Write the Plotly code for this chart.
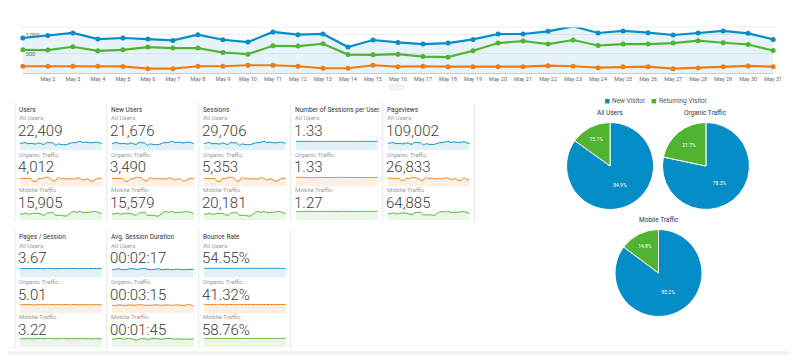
import plotly.graph_objects as go

# page body has an 8px margin: the figure is sized to fit inside the 806x363 window
W, H = 806, 363
OFF = 8
FW, FH = W - 2 * OFF, H - 2 * OFF
BLUE, GREEN, ORANGE = "#058DC7", "#50B432", "#ED7E17"
FONT = "Roboto"

# ---------------- data ----------------
days = [f"May {d}" for d in range(1, 32)]
sessions_all = [913, 981, 1044, 886, 913, 886, 850, 1000, 868, 807, 1070, 1000, 1018, 676, 860, 797,
                755, 781, 876, 1018, 1018, 1086, 1218, 1044, 1097, 1052, 991, 1044, 1097, 1034, 876]
sessions_mobile = [605, 597, 684, 579, 605, 676, 650, 650, 534, 492, 710, 702, 763, 481, 473, 492,
                   429, 413, 579, 781, 834, 755, 860, 718, 755, 755, 781, 842, 789, 744, 587]
sessions_organic = [176, 176, 176, 176, 172, 113, 113, 176, 176, 202, 202, 176, 124, 124, 202, 166,
                    176, 166, 166, 166, 166, 192, 176, 139, 160, 166, 113, 131, 160, 184, 166]

metric_names = ["Users", "New Users", "Sessions", "Number of Sessions per User", "Pageviews",
                "Pages / Session", "Avg. Session Duration", "Bounce Rate"]
segments = ["All Users", "Organic Traffic", "Mobile Traffic"]
totals_all = ["22,409", "21,676", "29,706", "1.33", "109,002", "3.67", "00:02:17", "54.55%"]
totals_organic = ["4,012", "3,490", "5,353", "1.33", "26,833", "5.01", "00:03:15", "41.32%"]
totals_mobile = ["15,905", "15,579", "20,181", "1.27", "64,885", "3.22", "00:01:45", "58.76%"]

users_all = [690, 735, 780, 665, 690, 665, 640, 750, 650, 605, 800, 750, 765, 510, 645, 600,
             570, 585, 660, 765, 765, 815, 910, 785, 820, 790, 745, 785, 820, 775, 660]
users_organic = [130, 132, 131, 130, 128, 86, 88, 131, 130, 150, 152, 132, 95, 96, 150, 125,
                 132, 124, 125, 126, 124, 143, 132, 105, 120, 125, 86, 99, 121, 138, 125]
users_mobile = [480, 475, 540, 460, 480, 535, 515, 515, 425, 390, 560, 555, 600, 380, 375, 390,
                340, 330, 460, 615, 655, 595, 675, 565, 595, 595, 615, 660, 620, 585, 465]
new_all = [668, 712, 755, 644, 668, 644, 620, 726, 630, 586, 775, 726, 741, 494, 625, 581,
           552, 567, 639, 741, 741, 789, 881, 760, 794, 765, 721, 760, 794, 750, 639]
new_organic = [113, 115, 114, 113, 111, 75, 77, 114, 113, 131, 132, 115, 83, 84, 130, 109,
               115, 108, 109, 110, 108, 124, 115, 91, 104, 109, 75, 86, 105, 120, 109]
new_mobile = [470, 465, 529, 451, 470, 524, 505, 505, 416, 382, 549, 544, 588, 372, 368, 382,
              333, 323, 451, 603, 642, 583, 661, 554, 583, 583, 603, 647, 608, 573, 456]
spu_all = [1.32, 1.33, 1.34, 1.33, 1.32, 1.33, 1.33, 1.33, 1.34, 1.33, 1.34, 1.33, 1.33, 1.32, 1.33, 1.33,
           1.32, 1.33, 1.33, 1.33, 1.33, 1.33, 1.34, 1.33, 1.34, 1.33, 1.33, 1.33, 1.34, 1.33, 1.33]
spu_organic = [1.35, 1.33, 1.34, 1.35, 1.34, 1.31, 1.28, 1.34, 1.35, 1.35, 1.33, 1.33, 1.31, 1.29, 1.35, 1.33,
               1.33, 1.34, 1.33, 1.32, 1.34, 1.34, 1.33, 1.32, 1.33, 1.33, 1.31, 1.32, 1.32, 1.33, 1.33]
spu_mobile = [1.26, 1.26, 1.27, 1.26, 1.26, 1.26, 1.26, 1.26, 1.26, 1.26, 1.27, 1.27, 1.27, 1.27, 1.26, 1.26,
              1.26, 1.28, 1.27, 1.27, 1.27, 1.27, 1.27, 1.27, 1.28, 1.27, 1.27, 1.27, 1.28, 1.27, 1.27]
pv_all = [3350, 3600, 3750, 3300, 3400, 3250, 3200, 3650, 3250, 3000, 3900, 3700, 3750, 2600, 3200, 3000,
          2850, 2950, 3300, 3750, 3800, 4000, 4400, 3850, 4050, 3900, 3700, 3900, 4150, 3650, 3300]
pv_organic = [860, 900, 870, 830, 880, 640, 660, 900, 840, 980, 950, 880, 700, 650, 990, 830,
              880, 820, 830, 850, 810, 940, 880, 740, 800, 830, 620, 720, 960, 700, 830]
pv_mobile = [2000, 1980, 2250, 1950, 2000, 2200, 2150, 2150, 1800, 1700, 2300, 2300, 2450, 1650, 1650, 1700,
             1550, 1500, 1950, 2500, 2600, 2450, 2700, 2350, 2400, 2400, 2450, 2600, 2500, 2400, 1950]
pps_all = [3.6, 3.7, 3.65, 3.55, 3.7, 3.6, 3.65, 3.7, 3.6, 3.55, 3.75, 3.7, 3.65, 3.5, 3.6, 3.65,
           3.7, 3.75, 3.6, 3.65, 3.7, 3.65, 3.55, 3.7, 3.65, 3.7, 3.6, 3.65, 3.6, 3.7, 3.6]
pps_organic = [4.9, 5.0, 4.95, 5.1, 5.05, 4.8, 4.9, 5.15, 5.0, 5.05, 5.2, 5.1, 5.0, 4.9, 5.1, 4.95,
               5.0, 5.05, 4.9, 5.0, 5.05, 4.95, 5.0, 4.9, 5.0, 4.95, 4.85, 4.95, 5.1, 4.9, 4.95]
pps_mobile = [3.1, 3.2, 3.15, 3.3, 3.2, 3.1, 3.25, 3.3, 3.2, 3.15, 3.3, 3.35, 3.2, 3.1, 3.2, 3.25,
              3.3, 3.2, 3.15, 3.25, 3.2, 3.15, 3.25, 3.2, 3.15, 3.2, 3.1, 3.15, 3.2, 3.15, 3.15]
dur_all = [130, 135, 145, 140, 128, 135, 140, 150, 145, 135, 140, 155, 150, 140, 130, 135,
           140, 145, 135, 130, 140, 135, 130, 135, 140, 135, 130, 132, 135, 138, 135]
dur_organic = [190, 185, 195, 200, 190, 185, 200, 195, 190, 195, 205, 200, 195, 185, 190, 195,
               200, 195, 190, 195, 200, 195, 190, 195, 200, 195, 185, 190, 215, 195, 170]
dur_mobile = [100, 105, 108, 110, 102, 105, 112, 108, 98, 90, 100, 108, 105, 100, 102, 108,
              110, 105, 100, 105, 108, 110, 105, 102, 105, 100, 102, 104, 100, 102, 104]
br_all = [54.5, 54.6, 54.5, 54.7, 54.8, 54.6, 54.5, 54.5, 54.6, 54.4, 54.3, 54.5, 54.6, 54.7, 54.8, 54.6,
          54.5, 54.4, 54.5, 54.6, 54.5, 54.5, 54.4, 54.5, 54.6, 54.5, 54.5, 54.6, 54.5, 54.5, 54.5]
br_organic = [41.0, 41.5, 41.2, 40.8, 41.5, 42.0, 42.5, 41.5, 40.8, 41.0, 41.2, 41.5, 41.0, 41.8, 41.5, 41.3,
              41.2, 41.5, 41.0, 41.3, 41.5, 41.2, 41.4, 41.3, 41.1, 41.3, 41.5, 41.2, 41.3, 41.4, 41.3]
br_mobile = [58.5, 58.8, 58.6, 58.9, 59.0, 58.7, 58.6, 58.8, 58.9, 58.7, 58.6, 58.8, 58.7, 58.9, 59.1, 58.8,
             58.7, 58.6, 58.8, 58.9, 58.7, 58.8, 58.9, 58.7, 58.8, 58.7, 58.8, 58.9, 58.7, 58.8, 58.7]

spark_series = [
    [users_all, users_organic, users_mobile],
    [new_all, new_organic, new_mobile],
    [sessions_all, sessions_organic, sessions_mobile],
    [spu_all, spu_organic, spu_mobile],
    [pv_all, pv_organic, pv_mobile],
    [pps_all, pps_organic, pps_mobile],
    [dur_all, dur_organic, dur_mobile],
    [br_all, br_organic, br_mobile],
]

visitor_types = ["New Visitor", "Returning Visitor"]
pie_titles = ["All Users", "Organic Traffic", "Mobile Traffic"]
pie_all = [84.9, 15.1]
pie_organic = [78.3, 21.7]
pie_mobile = [85.2, 14.8]

# ---------------- helpers (window pixels -> paper) ----------------
def px(x):
    return (x - OFF) / FW

def py(y):
    return 1 - (y - OFF) / FH

fig = go.Figure()
annotations, shapes = [], []

def text(x, y, s, size, color, anchor="left", weight=None):
    f = dict(size=size, color=color, family=FONT)
    if weight:
        f["weight"] = weight
    annotations.append(dict(x=px(x), y=py(y), xref="paper", yref="paper", text=s, showarrow=False,
                            xanchor=anchor, yanchor="middle", font=f, borderpad=0, borderwidth=0))

# ---------------- main line chart ----------------
fig.add_trace(go.Scatter(x=days, y=sessions_all, mode="lines+markers", fill="tozeroy",
                         fillcolor="rgba(5,141,199,0.10)", line=dict(color=BLUE, width=2.2),
                         marker=dict(size=5, color=BLUE), cliponaxis=False, showlegend=False))
fig.add_trace(go.Scatter(x=days, y=sessions_mobile, mode="lines+markers",
                         line=dict(color=GREEN, width=2.2), marker=dict(size=5, color=GREEN),
                         cliponaxis=False, showlegend=False))
fig.add_trace(go.Scatter(x=days, y=sessions_organic, mode="lines+markers",
                         line=dict(color=ORANGE, width=2.2), marker=dict(size=5, color=ORANGE),
                         cliponaxis=False, showlegend=False))

layout = dict(
    xaxis=dict(domain=[px(23), px(782)], type="category", range=[0, 30], tickvals=days[1:],
               ticktext=days[1:], tickfont=dict(size=5.5, color="#666", family=FONT), showgrid=False,
               showline=True, linecolor="#cccccc", linewidth=1, ticks="", zeroline=False, anchor="y"),
    yaxis=dict(domain=[py(73), py(27)], range=[0, 1200], tickvals=[500, 1000], tickformat=",",
               ticklabelposition="inside", tickfont=dict(size=5.5, color="#666", family=FONT),
               showgrid=True, gridcolor="#eeeeee", zeroline=False, showline=False, anchor="x"),
)
shapes.append(dict(type="line", xref="paper", yref="paper", x0=px(20), x1=px(786), y0=py(27), y1=py(27),
                   line=dict(color="#eeeeee", width=1)))
shapes.append(dict(type="rect", xref="paper", yref="paper", x0=px(394), x1=px(408), y0=py(90), y1=py(85),
                   line=dict(color="#dddddd", width=0.5), fillcolor="#f4f4f4"))

# ---------------- scorecards ----------------
seg_colors = [BLUE, ORANGE, GREEN]
seg_fills = ["rgba(5,141,199,0.12)", "rgba(237,126,23,0.12)", "rgba(80,180,50,0.12)"]
totals = [totals_all, totals_organic, totals_mobile]
label_y = [118.5, 155, 190]
num_y = [131, 167.5, 203]
spark_top = [140.5, 176.5, 210.5]

n = 2
for i, name in enumerate(metric_names):
    row, col = (0, i) if i < 5 else (1, i - 5)
    dy = 127 * row
    left = 20 + 93 * col
    text(left - 1, 110 + dy, name, 6.5, "#333")
    for k in range(3):
        text(left - 1, label_y[k] + dy, segments[k], 6.2, "#9a9a9a")
        text(left - 1.5, num_y[k] + dy, totals[k][i], 15, "#3a3a3a", weight=300)
        vals = spark_series[i][k]
        fig.add_trace(go.Scatter(x=days, y=vals, mode="lines", fill="tozeroy", fillcolor=seg_fills[k],
                                 line=dict(color=seg_colors[k], width=1, shape="spline", smoothing=0.8),
                                 xaxis=f"x{n}", yaxis=f"y{n}", showlegend=False, hoverinfo="skip"))
        t = spark_top[k] + dy
        layout[f"xaxis{n}"] = dict(domain=[px(left), px(left + 83)], type="category", range=[0, 30],
                                   visible=False, anchor=f"y{n}")
        layout[f"yaxis{n}"] = dict(domain=[py(t + 10), py(t)], range=[0, max(vals) * 1.08],
                                   visible=False, anchor=f"x{n}")
        n += 1

# card dividers
for x in [15, 108, 201, 294, 387, 480]:
    shapes.append(dict(type="line", xref="paper", yref="paper", x0=px(x), x1=px(x), y0=py(222), y1=py(103),
                       line=dict(color="#e8e8e8", width=1)))
for x in [15, 108, 201, 294]:
    shapes.append(dict(type="line", xref="paper", yref="paper", x0=px(x), x1=px(x), y0=py(350), y1=py(230),
                       line=dict(color="#e8e8e8", width=1)))
shapes.append(dict(type="rect", xref="paper", yref="paper", x0=0, x1=1, y0=0, y1=py(351),
                   line=dict(width=0), fillcolor="#f3f3f3", layer="below"))

# ---------------- pies ----------------
pie_data = [pie_all, pie_organic, pie_mobile]
pie_boxes = [(573, 122), (670, 122), (622, 229)]
for vals, (x0, y0), title in zip(pie_data, pie_boxes, pie_titles):
    fig.add_trace(go.Pie(labels=visitor_types, values=vals, sort=False, direction="clockwise", rotation=0,
                         marker=dict(colors=[BLUE, GREEN], line=dict(color="white", width=1)),
                         texttemplate="%{value:.1f}%", textposition="inside",
                         insidetextorientation="horizontal",
                         insidetextfont=dict(color="white", size=5, family=FONT),
                         domain=dict(x=[px(x0), px(x0 + 88)], y=[py(y0 + 88), py(y0)]),
                         showlegend=False, hoverinfo="label+percent"))
    text(x0 + 44, y0 - 9, title, 6.5, "#333", anchor="center")

# legend
for (sx, tx, lab, c) in [(612, 619, visitor_types[0], BLUE), (659, 666, visitor_types[1], GREEN)]:
    shapes.append(dict(type="rect", xref="paper", yref="paper", x0=px(sx), x1=px(sx + 4.5),
                       y0=py(103.5), y1=py(99), line=dict(width=0), fillcolor=c))
    text(tx, 101.3, lab, 6.5, "#555")

layout.update(width=FW, height=FH, margin=dict(l=0, r=0, t=0, b=0), paper_bgcolor="white",
              plot_bgcolor="rgba(0,0,0,0)", annotations=annotations, shapes=shapes,
              font=dict(family=FONT))
fig.update_layout(**layout)
fig.write_html("out.html")
